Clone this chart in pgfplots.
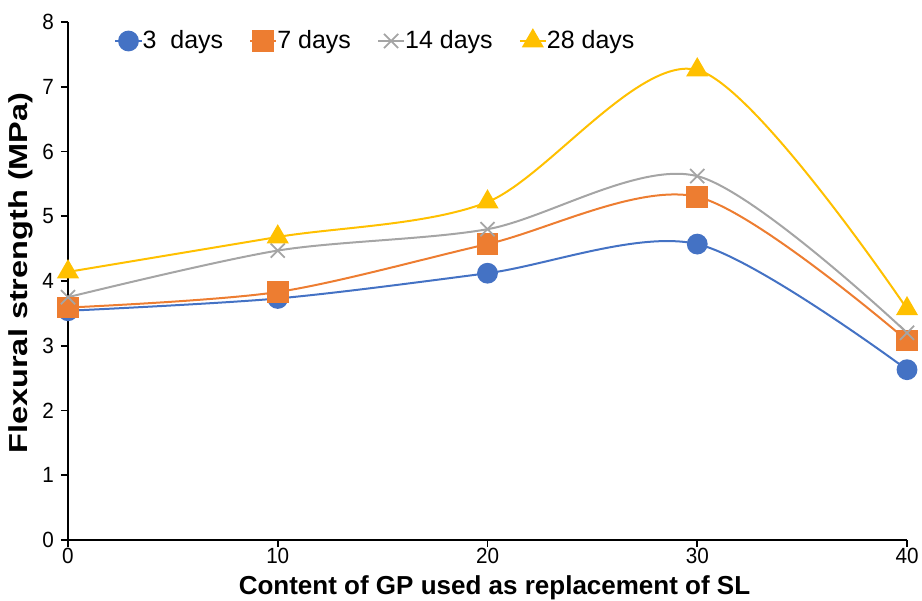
\documentclass[border=0pt]{standalone}
\usepackage{fontspec}
\setmainfont{Liberation Sans}
\newfontfamily\vfont[FakeStretch=1.25]{Liberation Sans}
\newfontfamily\tfont[FakeStretch=0.94]{Liberation Sans}
\usepackage{pgfplots}
\pgfplotsset{compat=1.18}
\usetikzlibrary{calc}
\definecolor{d3}{HTML}{4472C4}
\definecolor{d7}{HTML}{ED7D31}
\definecolor{d14}{HTML}{A5A5A5}
\definecolor{d28}{HTML}{FFC000}

\begin{document}
\begin{tikzpicture}
\begin{axis}[
  scale only axis,
  width=419.5pt, height=259pt,
  xmin=0, xmax=40, ymin=0, ymax=8,
  xtick={0,10,20,30,40}, ytick={0,1,...,8},
  axis lines*=left,
  axis line style={black, line width=0.8pt},
  tick align=outside,
  major tick length=3.5pt,
  tick style={black, line width=0.8pt},
  /pgf/number format/assume math mode=true,
  tick label style={font=\tfont\fontsize{11}{13}\selectfont},
  xticklabel style={yshift=0.5pt, inner sep=1pt},
  xlabel={\bfseries Content of GP used as replacement of SL},
  xlabel style={font=\fontsize{13}{15}\selectfont, inner sep=1pt,
    at={(axis description cs:0.5,0)}, anchor=base, xshift=3.5pt, yshift=-27.3pt},
  ylabel={\vfont\bfseries Flexural strength (MPa)},
  ylabel style={font=\fontsize{13}{15}\selectfont, xshift=4pt, yshift=-2pt},
  legend columns=-1,
  legend style={at={(axis description cs:0,1)}, anchor=west,
    xshift=20pt, yshift=-9.5pt,
    draw=none, fill=none, font=\fontsize{12.5}{14}\selectfont,
    /tikz/every even column/.append style={column sep=11pt},
    /tikz/every odd column/.append style={column sep=-2pt}},
  legend image code/.code={\draw[mark repeat=2,mark phase=2]
    plot coordinates {(0cm,0cm)(0.23cm,0cm)(0.46cm,0cm)};},
  every axis plot/.append style={smooth, line width=1pt},
]
\addplot[d3, mark=*, mark size=4.7pt, mark options={fill=d3, draw=d3}]
  coordinates {(0,3.54)(10,3.73)(20,4.12)(30,4.57)(40,2.63)};
\addlegendentry{3\ \ days}
\addplot[d7, mark=square*, mark size=4.9pt, mark options={fill=d7, draw=d7}]
  coordinates {(0,3.59)(10,3.83)(20,4.57)(30,5.30)(40,3.08)};
\addlegendentry{7 days}
\addplot[d14, mark=x, mark size=5pt, mark options={line width=0.9pt}]
  coordinates {(0,3.75)(10,4.47)(20,4.80)(30,5.62)(40,3.20)};
\addlegendentry{14 days}
\addplot[d28, mark=triangle*, mark size=5.4pt, mark options={fill=d28, draw=d28}]
  coordinates {(0,4.14)(10,4.68)(20,5.22)(30,7.26)(40,3.57)};
\addlegendentry{28 days}
\coordinate (o) at (rel axis cs:0,0);
\coordinate (t) at (rel axis cs:1,1);
\end{axis}
\pgfresetboundingbox
\path[use as bounding box] ($(o)+(-34pt,-30.5pt)$) rectangle ($(t)+(7.5pt,11pt)$);
\end{tikzpicture}
\end{document}
